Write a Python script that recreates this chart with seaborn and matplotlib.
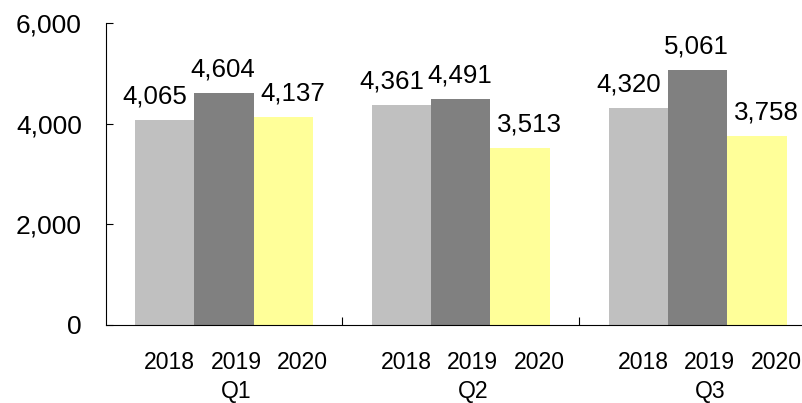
import matplotlib
matplotlib.use("Agg")
import matplotlib.pyplot as plt
import matplotlib.transforms as mtransforms
import pandas as pd
import seaborn as sns

quarters = ["Q1", "Q2", "Q3"]
years = ["2018", "2019", "2020"]
v2018 = [4065, 4361, 4320]
v2019 = [4604, 4491, 5061]
v2020 = [4137, 3513, 3758]
colors = ["#C0C0C0", "#808080", "#FFFF99"]
ytick_vals = [0, 2000, 4000, 6000]

# style: horizontal nudges (pixels) of value labels per series, and of axis labels
value_dx = [-9.5, -1.0, 9.5]
year_dx = [5.0, 12.0, 19.0]
quarter_dx = 12.0

plt.rcParams["font.family"] = ["Liberation Sans", "DejaVu Sans"]

df = pd.DataFrame({
    "quarter": quarters * 3,
    "year": [y for y in years for _ in quarters],
    "value": v2018 + v2019 + v2020,
})

DPI = 100
fig = plt.figure(figsize=(8.02, 4.03), dpi=DPI)
ax = fig.add_axes([105.5 / 802, 78 / 403, 1 - 105.5 / 802, 302 / 403])
sns.barplot(data=df, x="quarter", y="value", hue="year", order=quarters,
            hue_order=years, palette=colors, width=0.75, gap=0, saturation=1,
            legend=False, errorbar=None, ax=ax, edgecolor="none", linewidth=0)

ax.set_xlim(-0.5, 2.44)
ax.set_ylim(0, 6000)
ax.set_yticks(ytick_vals)
ax.set_yticklabels([f"{v:,}" for v in ytick_vals])
ax.set_xticks([0.5, 1.5])
ax.set_xticklabels([])
ax.set_xlabel("")
ax.set_ylabel("")
ax.tick_params(axis="y", direction="in", length=5, pad=17, labelsize=19, width=0.8)
ax.tick_params(axis="x", direction="in", length=6, width=0.8)
for s in ["top", "right"]:
    ax.spines[s].set_visible(False)
for s in ["left", "bottom"]:
    ax.spines[s].set_linewidth(0.8)
    ax.spines[s].set_color("black")

xt = ax.get_xaxis_transform()


def shifted(dx_px):
    return xt + mtransforms.ScaledTranslation(dx_px / DPI, 0, fig.dpi_scale_trans)


for j, (cont, yr) in enumerate(zip(ax.containers, years)):
    for patch, val in zip(cont.patches, cont.datavalues):
        cx = patch.get_x() + patch.get_width() / 2
        ax.annotate(f"{val:,.0f}", (cx, val),
                    xytext=(value_dx[j] * 72 / DPI, 11.9),
                    textcoords="offset points", ha="center", va="baseline",
                    fontsize=18.6)
        ax.text(cx, -44 / 302, yr, transform=shifted(year_dx[j]),
                ha="center", va="baseline", fontsize=16.6)
for i, q in enumerate(quarters):
    ax.text(i, -73 / 302, q, transform=shifted(quarter_dx),
            ha="center", va="baseline", fontsize=16.6)

fig.savefig("out.png", dpi=DPI)
